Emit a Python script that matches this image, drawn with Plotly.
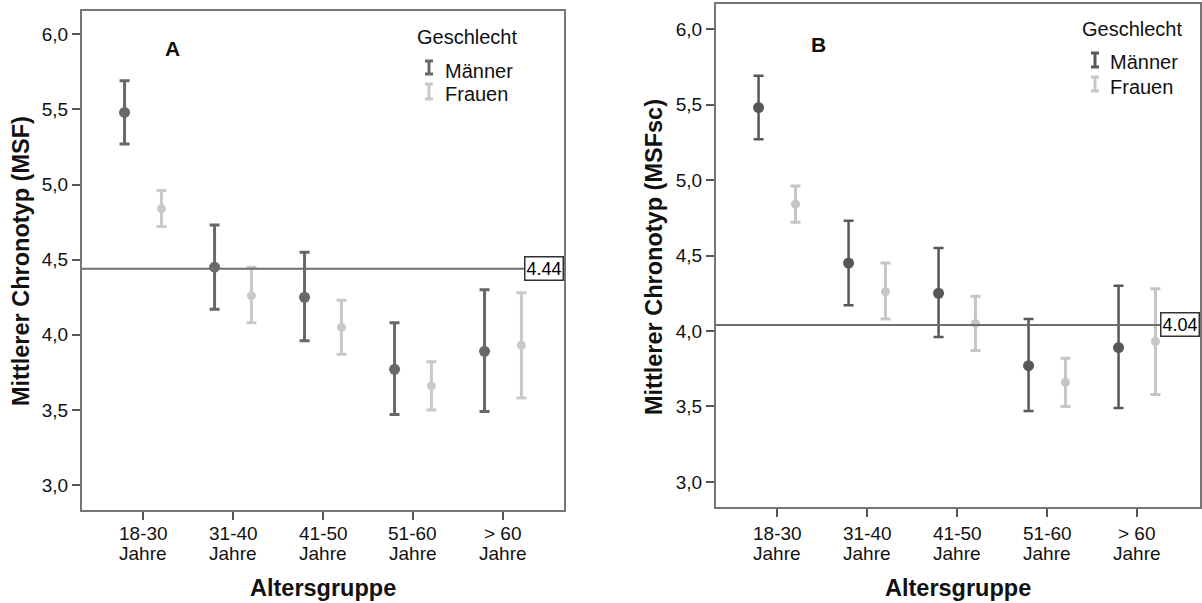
import plotly.graph_objects as go

W, H = 1202, 603

# ---------------- data ----------------
age_groups = ["18-30", "31-40", "41-50", "51-60", "> 60"]
age_suffix = "Jahre"
y_ticks = [3.0, 3.5, 4.0, 4.5, 5.0, 5.5, 6.0]
y_tick_text = ["3,0", "3,5", "4,0", "4,5", "5,0", "5,5", "6,0"]

# Panel A: MSF
a_men_mean = [5.48, 4.45, 4.25, 3.77, 3.89]
a_men_upper = [5.69, 4.73, 4.55, 4.08, 4.30]
a_men_lower = [5.27, 4.17, 3.96, 3.47, 3.49]
a_women_mean = [4.84, 4.26, 4.05, 3.66, 3.93]
a_women_upper = [4.96, 4.45, 4.23, 3.82, 4.28]
a_women_lower = [4.72, 4.08, 3.87, 3.50, 3.58]
a_grand_mean = 4.44

# Panel B: MSFsc
b_men_mean = [5.48, 4.45, 4.25, 3.77, 3.89]
b_men_upper = [5.69, 4.73, 4.55, 4.08, 4.30]
b_men_lower = [5.27, 4.17, 3.96, 3.47, 3.49]
b_women_mean = [4.84, 4.26, 4.05, 3.66, 3.93]
b_women_upper = [4.96, 4.45, 4.23, 3.82, 4.28]
b_women_lower = [4.72, 4.08, 3.87, 3.50, 3.58]
b_grand_mean = 4.04

FONT = "Liberation Sans, Arial, sans-serif"
TXT = "#111111"


def px(x):
    return x / W


def py(y):
    return 1 - y / H


fig = go.Figure()

panels = [
    dict(key="", men=(a_men_mean, a_men_upper, a_men_lower),
         women=(a_women_mean, a_women_upper, a_women_lower),
         gm=a_grand_mean, gm_label="4.44",
         box=(82, 564, 11, 510), yr=[2.834, 6.155], xr=[-0.678, 4.678],
         men_col="#686868", women_col="#c9c9c9", thick_m=3, thick_w=3,
         letter="A", letter_xy=(172, 49),
         ytitle="Mittlerer Chronotyp (MSF)", ytitle_x=21, ytitle_y=261,
         leg=dict(title=(415, 37), glyph_x=429, m_y=(61, 74), f_y=(84, 99), text_x=443, m_ty=71, f_ty=94)),
    dict(key="2", men=(b_men_mean, b_men_upper, b_men_lower),
         women=(b_women_mean, b_women_upper, b_women_lower),
         gm=b_grand_mean, gm_label="4.04",
         box=(716, 1200, 4, 507), yr=[2.834, 6.166], xr=[-0.678, 4.70],
         men_col="#575757", women_col="#c6c6c6", thick_m=2.5, thick_w=3,
         letter="B", letter_xy=(819, 45),
         ytitle="Mittlerer Chronotyp (MSFsc)", ytitle_x=654, ytitle_y=257,
         leg=dict(title=(1080, 29), glyph_x=1095, m_y=(53, 67), f_y=(77, 91), text_x=1108, m_ty=62, f_ty=87)),
]

OFF = 0.205
layout_upd = {}
shapes = []
annos = []

for p in panels:
    k = p["key"]
    xa, ya = "x" + k, "y" + k
    l, r, t, b = p["box"]
    for name, (mean, up, lo), col, off, msize, th in [
        ("Männer", p["men"], p["men_col"], -OFF, 11, p["thick_m"]),
        ("Frauen", p["women"], p["women_col"], OFF, 9, p["thick_w"]),
    ]:
        fig.add_trace(go.Scatter(
            x=[i + off for i in range(len(age_groups))], y=mean,
            mode="markers", name=name, showlegend=False,
            xaxis=xa, yaxis=ya,
            marker=dict(color=col, size=msize, line=dict(width=0)),
            error_y=dict(type="data", symmetric=False,
                         array=[u - m for u, m in zip(up, mean)],
                         arrayminus=[m - d for m, d in zip(mean, lo)],
                         color=col, thickness=th, width=5),
        ))
    axis_common = dict(showline=True, mirror=True, linecolor="#767676", linewidth=2,
                       showgrid=False, zeroline=False, ticks="outside", ticklen=8,
                       tickwidth=2, tickcolor="#555555")
    layout_upd["xaxis" + k] = dict(axis_common, domain=[px(l), px(r)], range=p["xr"],
                                   anchor=ya, tickvals=list(range(len(age_groups))),
                                   showticklabels=False)
    layout_upd["yaxis" + k] = dict(axis_common, domain=[py(b), py(t)], range=p["yr"],
                                   anchor=xa, tickvals=y_ticks, ticktext=y_tick_text,
                                   tickfont=dict(family=FONT, size=19, color=TXT))
    # x tick labels (two lines)
    for i, g in enumerate(age_groups):
        annos.append(dict(x=i, y=py(533), xref=xa, yref="paper", text=g, showarrow=False,
                          font=dict(family=FONT, size=19, color=TXT), xanchor="center", yanchor="middle"))
        annos.append(dict(x=i, y=py(553), xref=xa, yref="paper", text=age_suffix, showarrow=False,
                          font=dict(family=FONT, size=19, color=TXT), xanchor="center", yanchor="middle"))
    # axis titles
    annos.append(dict(x=px((l + r) / 2), y=py(588), xref="paper", yref="paper", text="<b>Altersgruppe</b>",
                      showarrow=False, font=dict(family=FONT, size=23.5, color=TXT),
                      xanchor="center", yanchor="middle"))
    annos.append(dict(x=px(p["ytitle_x"]), y=py(p["ytitle_y"]), xref="paper", yref="paper",
                      text="<b>" + p["ytitle"] + "</b>", textangle=-90, showarrow=False,
                      font=dict(family=FONT, size=23.5, color=TXT), xanchor="center", yanchor="middle"))
    # panel letter
    annos.append(dict(x=px(p["letter_xy"][0]), y=py(p["letter_xy"][1]), xref="paper", yref="paper",
                      text="<b>" + p["letter"] + "</b>", showarrow=False,
                      font=dict(family=FONT, size=21, color=TXT), xanchor="center", yanchor="middle"))
    # grand mean reference line + label
    shapes.append(dict(type="line", xref=xa + " domain", yref=ya, x0=0, x1=1, y0=p["gm"], y1=p["gm"],
                       line=dict(color="#6e6e6e", width=2), layer="above"))
    annos.append(dict(x=1, y=p["gm"], xref=xa + " domain", yref=ya, text=p["gm_label"], showarrow=False,
                      xanchor="right", yanchor="middle", bgcolor="white", bordercolor="#333333",
                      borderwidth=1.5, borderpad=1, font=dict(family=FONT, size=18, color="#000")))
    # legend (manual)
    lg = p["leg"]
    annos.append(dict(x=px(lg["title"][0]), y=py(lg["title"][1]), xref="paper", yref="paper",
                      text="Geschlecht", showarrow=False, xanchor="left", yanchor="middle",
                      font=dict(family=FONT, size=20, color=TXT)))
    for (y0, y1), ty, txt, col in [(lg["m_y"], lg["m_ty"], "Männer", p["men_col"]),
                                   (lg["f_y"], lg["f_ty"], "Frauen", p["women_col"])]:
        gx = lg["glyph_x"]
        shapes.append(dict(type="line", xref="paper", yref="paper", x0=px(gx), x1=px(gx),
                           y0=py(y0), y1=py(y1), line=dict(color=col, width=3)))
        for yy in (y0, y1):
            shapes.append(dict(type="line", xref="paper", yref="paper", x0=px(gx - 4), x1=px(gx + 4),
                               y0=py(yy), y1=py(yy), line=dict(color=col, width=3)))
        annos.append(dict(x=px(lg["text_x"]), y=py(ty), xref="paper", yref="paper", text=txt,
                          showarrow=False, xanchor="left", yanchor="middle",
                          font=dict(family=FONT, size=20, color=TXT)))

fig.update_layout(
    width=W, height=H, margin=dict(l=0, r=0, t=0, b=0),
    paper_bgcolor="white", plot_bgcolor="white",
    showlegend=False, shapes=shapes, annotations=annos,
    font=dict(family=FONT, color=TXT),
    **layout_upd,
)

fig.write_html("out.html")
